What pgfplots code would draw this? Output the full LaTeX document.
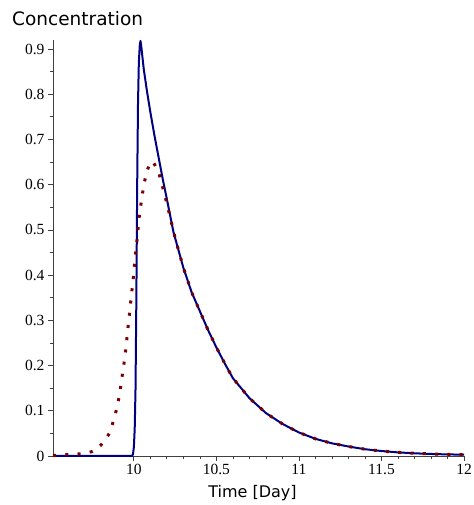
\documentclass[border=0pt]{standalone}
\usepackage{fontspec}
\setmainfont{Liberation Serif}
\newfontfamily\labelfont{DejaVu Sans}
\usepackage{pgfplots}
\pgfplotsset{compat=1.18}
\definecolor{curveblue}{RGB}{0,0,128}
\definecolor{curvered}{RGB}{120,0,0}

\begin{document}
\begin{tikzpicture}
\begin{axis}[
  scale only axis, width=411pt, height=416pt,
  xmin=9.51, xmax=12, ymin=0, ymax=0.92,
  axis x line=bottom, axis y line=left,
  axis line style={-, black!75, line width=0.9pt},
  xtick={10,10.5,11,11.5,12}, minor x tick num=4,
  ytick={0,0.1,0.2,0.3,0.4,0.5,0.6,0.7,0.8,0.9}, minor y tick num=1,
  tick align=outside, major tick length=5pt, minor tick length=3pt,
  tick style={black!75, line width=0.8pt},
  /pgf/number format/assume math mode=true,
  /pgf/number format/fixed,
  tick label style={font=\fontsize{15.5}{15.5}\selectfont},
  xlabel={Time [Day]},
  xlabel style={font=\labelfont\fontsize{16}{16}\selectfont, yshift=-3pt, xshift=-6pt},
  clip=false,
]
% full model
\addplot[curveblue, line width=2pt, line join=round] coordinates {
  (9.51,0)(9.99,0)(9.995,0.005)(10.0,0.02)(10.005,0.06)(10.01,0.15)
  (10.015,0.35)(10.02,0.6)(10.025,0.78)(10.03,0.87)(10.036,0.91)
  (10.04,0.918)(10.045,0.905)(10.06,0.855)(10.08,0.805)(10.10,0.760)(10.125,0.708)
  (10.15,0.660)(10.175,0.612)(10.2,0.568)(10.24,0.495)(10.3,0.416)
  (10.35,0.362)(10.4,0.320)(10.45,0.278)(10.5,0.240)(10.55,0.205)
  (10.6,0.172)(10.7,0.128)(10.8,0.095)(10.9,0.071)(11.0,0.052)
  (11.1,0.038)(11.2,0.028)(11.3,0.021)(11.4,0.015)(11.5,0.011)
  (11.6,0.008)(11.7,0.006)(11.8,0.0045)(11.9,0.0035)(12.0,0.003)};
% approximation
\addplot[curvered, line width=3pt, dash pattern=on 3pt off 9.3pt] coordinates {
  (9.51,0.001)(9.55,0.002)(9.6,0.003)(9.65,0.004)(9.7,0.006)(9.75,0.010)
  (9.8,0.024)(9.83,0.038)(9.855,0.052)(9.877,0.079)(9.897,0.106)
  (9.911,0.132)(9.923,0.160)(9.933,0.188)(9.944,0.214)(9.953,0.242)
  (9.96,0.269)(9.968,0.297)(9.976,0.324)(9.984,0.352)(9.992,0.379)
  (10.0,0.406)(10.006,0.434)(10.014,0.461)(10.022,0.487)(10.028,0.517)
  (10.038,0.544)(10.048,0.571)(10.06,0.598)(10.075,0.625)(10.1,0.651)
  (10.12,0.648)(10.147,0.631)(10.168,0.604)(10.186,0.578)(10.204,0.552)
  (10.222,0.525)(10.25,0.482)(10.3,0.416)(10.35,0.362)(10.4,0.320)
  (10.45,0.278)(10.5,0.240)(10.55,0.205)(10.6,0.172)(10.7,0.128)
  (10.8,0.095)(10.9,0.071)(11.0,0.052)(11.1,0.038)(11.2,0.028)
  (11.3,0.021)(11.4,0.015)(11.5,0.011)(11.6,0.008)(11.7,0.006)
  (11.8,0.0045)(11.9,0.0035)(12.0,0.003)};
\node[anchor=base west, inner sep=0pt, font=\labelfont\fontsize{18.5}{18.5}\selectfont]
  at ([xshift=-41pt,yshift=14pt]rel axis cs:0,1) {Concentration};
\end{axis}
\pgfresetboundingbox
\path ([xshift=-53pt,yshift=-49pt]current axis.south west)
  rectangle ([xshift=9pt,yshift=40pt]current axis.north east);
\end{tikzpicture}
\end{document}
